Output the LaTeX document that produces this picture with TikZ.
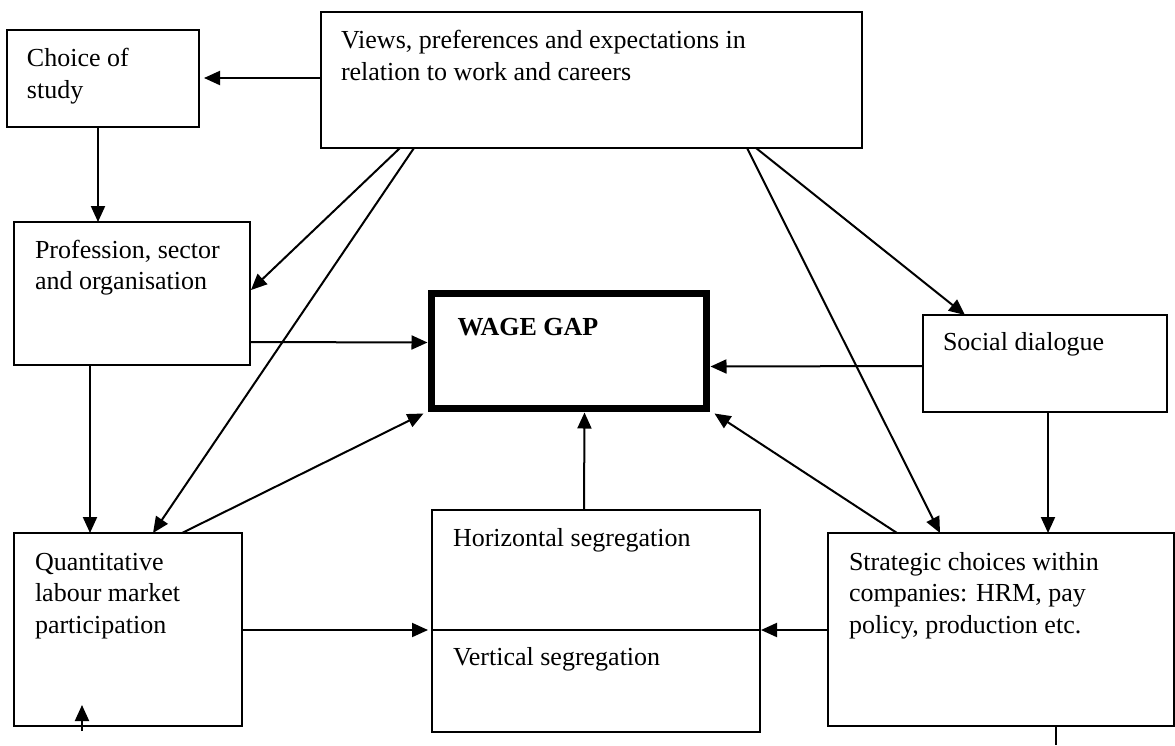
\documentclass[tikz,border=0pt]{standalone}
\usepackage{fontspec}
\setmainfont{Liberation Serif}
\usetikzlibrary{arrows.meta,calc}
\begin{document}
\begin{tikzpicture}[x=1pt,y=-1pt,
  box/.style={draw,line width=1.8pt,inner sep=0pt,outer sep=0pt},
  lbl/.style={anchor=north west,inner sep=0pt,outer sep=0pt,align=left,font=\fontsize{26}{31.5}\selectfont},
  conn/.style={line width=2pt,-{Triangle[length=16pt,width=14pt]}},
  plainline/.style={line width=2pt}]
\useasboundingbox (0,0) rectangle (1175,745);
% boxes
\node[box,minimum width=192pt,minimum height=97pt] (choice) at (103,78.5) {};
\node[box,minimum width=541pt,minimum height=136pt] (views) at (591.5,80) {};
\node[box,minimum width=236pt,minimum height=143pt] (prof) at (132,293.5) {};
\node[box,line width=7.5pt,minimum width=275pt,minimum height=115pt] (wage) at (569,351) {};
\node[box,minimum width=244pt,minimum height=97pt] (social) at (1045,363.5) {};
\node[box,minimum width=228pt,minimum height=193pt] (quant) at (128,629.5) {};
\node[box,minimum width=328pt,minimum height=222pt] (hv) at (596,621) {};
\node[box,minimum width=346pt,minimum height=193pt] (strat) at (1001,629.5) {};
\draw[line width=1.8pt] ($(hv.north west)+(0,120)$) -- ($(hv.north east)+(0,120)$);
% texts
\node[lbl] (choicetxt) at ($(choice.north west)+(20,14.5)$) {\strut Choice of\\study};
\node[lbl] (viewstxt) at ($(views.north west)+(20,14.5)$) {\strut Views, preferences and expectations in\\relation to work and careers};
\node[lbl] (proftxt) at ($(prof.north west)+(21,14)$) {\strut Profession, sector\\and organisation};
\node[lbl,font=\fontsize{26}{31.5}\selectfont\bfseries] (wagetxt) at ($(wage.north west)+(26,20)$) {\strut WAGE GAP};
\node[lbl] (socialtxt) at ($(social.north west)+(20,13)$) {\strut Social dialogue};
\node[lbl] (quanttxt) at ($(quant.north west)+(21,15)$) {\strut Quantitative\\labour market\\participation};
\node[lbl] (htxt) at ($(hv.north west)+(21,14)$) {\strut Horizontal segregation};
\node[lbl] (vtxt) at ($(hv.north west)+(21,133)$) {\strut Vertical segregation};
\node[lbl] (strattxt) at ($(strat.north west)+(21,15)$) {\strut Strategic choices within\\companies: HRM, pay\\policy, production etc.};
% connectors
\draw[conn] ($(views.north west)+(0,66)$) -- ($(choice.north east)+(5,48)$);
\draw[conn] ($(choice.south west)+(91,0)$) -- ($(prof.north west)+(84,0)$);
\draw[conn] ($(views.south west)+(79,0)$) -- ($(prof.north east)+(1,68)$);
\draw[conn] ($(views.south west)+(93,0)$) -- ($(quant.north west)+(139,0)$);
\draw[conn] ($(prof.north east)+(0,120)$) -- ($(wage.north west)+(-4,49)$);
\draw[conn] ($(prof.south west)+(76,0)$) -- ($(quant.north west)+(76,0)$);
\draw[conn] ($(quant.north west)+(168,0)$) -- ($(wage.south west)+(-8,5)$);
\draw[conn] ($(views.south west)+(435,0)$) -- ($(social.north west)+(42,0)$);
\draw[conn] ($(views.south west)+(426,0)$) -- ($(strat.north west)+(112,0)$);
\draw[conn] ($(social.north west)+(0,51)$) -- ($(wage.north east)+(4,73)$);
\draw[conn] ($(social.south west)+(125,0)$) -- ($(strat.north west)+(220,0)$);
\draw[conn] ($(strat.north west)+(69,0)$) -- ($(wage.south east)+(8,5)$);
\draw[conn] ($(hv.north west)+(152,0)$) -- ($(wage.south west)+(153,4)$);
\draw[conn] ($(quant.north east)+(0,97)$) -- ($(hv.north west)+(-4,120)$);
\draw[conn] ($(strat.north west)+(0,97)$) -- ($(hv.north east)+(1,120)$);
% free ends
\coordinate (qlow) at ($(quant.south west)+(68,5)$);
\coordinate (qhigh) at ($(quant.south west)+(68,-21)$);
\draw[conn] (qlow) -- (qhigh);
\coordinate (sbottom) at ($(strat.south west)+(228,19)$);
\draw[plainline] ($(strat.south west)+(228,0)$) -- (sbottom);
\end{tikzpicture}
\end{document}
